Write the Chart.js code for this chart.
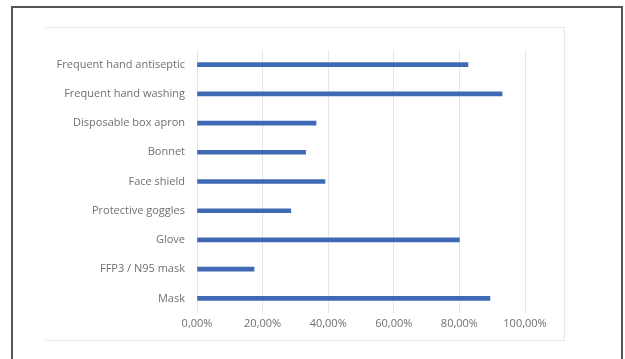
<!DOCTYPE html>
<html>
<head>
<meta charset="utf-8">
<script src="https://cdn.jsdelivr.net/npm/chart.js@4"></script>
<style>
  html, body { margin: 0; padding: 0; background: #fff; }
  #wrap { position: relative; width: 625px; height: 359px; overflow: hidden; }
  #outer { position: absolute; left: 11px; top: 6px; width: 608px; height: 400px;
           border: 2px solid #555; }
  #frame { position: absolute; left: 45px; top: 27px; width: 519px; height: 312px;
           border-top: 1px solid #e8e8e8; border-right: 1px solid #e8e8e8; border-bottom: 1px solid #e8e8e8; }
  canvas { position: absolute; left: 0; top: 0; }
</style>
</head>
<body>
<div id="wrap">
  <div id="outer"></div>
  <div id="frame"></div>
  <canvas id="myChart" width="625" height="359"></canvas>
</div>
<script>
const categories = [
  'Frequent hand antiseptic',
  'Frequent hand washing',
  'Disposable box apron',
  'Bonnet',
  'Face shield',
  'Protective goggles',
  'Glove',
  'FFP3 / N95 mask',
  'Mask'
];
const percentages = [82.6, 93.0, 36.3, 33.1, 39.0, 28.6, 80.0, 17.4, 89.3];
const xTicks = [0, 20, 40, 60, 80, 100];

const textColor = '#707070';
const fontFamily = "'Open Sans', 'Liberation Sans', sans-serif";

const ctx = document.getElementById('myChart').getContext('2d');
const config = {
  type: 'bar',
  data: {
    labels: categories,
    datasets: [{
      label: 'Share',
      data: percentages,
      backgroundColor: '#4069b5',
      borderWidth: 0,
      barThickness: 4
    }]
  },
  options: {
    indexAxis: 'y',
    responsive: false,
    animation: false,
    devicePixelRatio: 1,
    layout: { padding: { left: 0, top: 50, right: 100, bottom: 24 } },
    plugins: { legend: { display: false }, tooltip: { enabled: false } },
    scales: {
      x: {
        min: 0,
        max: 100,
        afterBuildTicks: scale => { scale.ticks = xTicks.map(v => ({ value: v })); },
        afterFit: scale => { scale.height = 22; },
        grid: { color: '#e6e6e6', lineWidth: 1, drawTicks: false },
        border: { display: false },
        ticks: {
          padding: 4,
          color: textColor,
          font: { family: fontFamily, size: 11 },
          maxRotation: 0,
          callback: v => v.toFixed(2).replace('.', ',') + '%'
        }
      },
      y: {
        afterFit: scale => { scale.width = 197; },
        grid: { display: false, drawTicks: false },
        border: { display: false },
        ticks: { padding: 12, color: textColor, font: { family: fontFamily, size: 11 } }
      }
    }
  }
};

var myChart = new Chart(ctx, config);
</script>
</body>
</html>
